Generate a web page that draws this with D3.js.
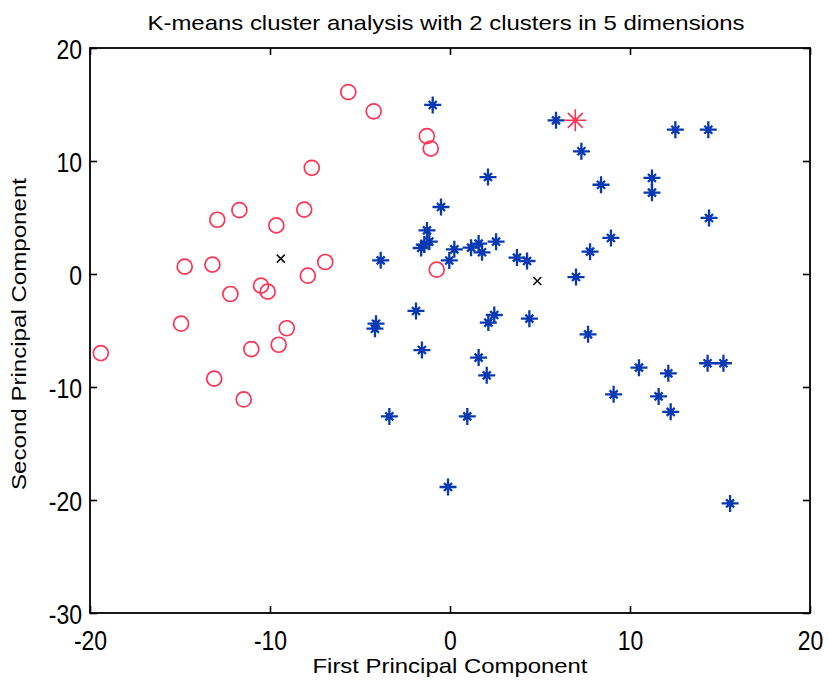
<!DOCTYPE html>
<html>
<head>
<meta charset="utf-8">
<script src="https://cdn.jsdelivr.net/npm/d3@7"></script>
<style>
  html, body { margin: 0; padding: 0; background: #fff; }
  svg { display: block; }
  text { font-family: "Liberation Sans", Arial, Helvetica, sans-serif; fill: #000; }
</style>
</head>
<body>
<svg id="chart" width="830" height="684"></svg>
<script>
// ---- data ----
const titleText = "K-means cluster analysis with 2 clusters in 5 dimensions";
const xLabelText = "First Principal Component";
const yLabelText = "Second Principal Component";
const xTicks = [-20, -10, 0, 10, 20];
const yTicks = [20, 10, 0, -10, -20, -30];

// cluster 1 (red circles)
const redX = [-5.65, -4.24, -1.29, -1.07, -7.68, -12.93, -11.7, -9.65, -8.1, -14.74, -13.2, -6.93,
              -7.9, -10.5, -10.13, -12.2, -0.74, -14.94, -9.07, -19.4, -11.04, -9.52, -13.1, -11.46];
const redY = [16.1, 14.4, 12.2, 11.1, 9.4, 4.8, 5.66, 4.3, 5.7, 0.65, 0.83, 1.06,
              -0.15, -1.03, -1.56, -1.77, 0.38, -4.4, -4.8, -7.0, -6.64, -6.26, -9.26, -11.1];

// cluster 2 (blue stars)
const blueX = [-0.96, 5.89, 12.52, 14.35, 7.3, 2.11, 8.39, 11.22, 11.22, 14.39, -0.5, -1.28,
               -1.43, -1.15, 8.94, 7.78, 0.24, -0.04, 1.17, 1.59, 1.78, 2.56, 3.72, 4.28,
               7.0, -3.85, -1.89, -4.11, -4.17, -1.56, -3.37, 2.46, 2.13, 4.41, 7.67, 1.59,
               2.04, 0.96, -0.11, 10.5, 12.13, 9.09, 11.59, 12.26, 14.31, 15.19, 15.56, -1.6];
const blueY = [14.96, 13.6, 12.77, 12.77, 10.86, 8.58, 7.9, 8.5, 7.2, 4.96, 5.93, 3.86,
               2.6, 2.86, 3.19, 1.98, 2.18, 1.2, 2.33, 2.69, 1.92, 2.86, 1.45, 1.15,
               -0.27, 1.21, -3.27, -4.4, -4.84, -6.73, -12.6, -3.63, -4.3, -3.95, -5.34, -7.4,
               -8.97, -12.6, -18.85, -8.29, -8.79, -10.65, -10.83, -12.2, -7.9, -7.9, -20.3, 2.3];

// cluster centroids (black x)
const centroidX = [-9.4, 4.85];
const centroidY = [1.36, -0.62];

// highlighted point (large red star)
const highlightX = [6.96];
const highlightY = [13.6];

// ---- drawing ----
const svg = d3.select("#chart");
const pLeft = 90, pRight = 810, pTop = 48, pBottom = 613;
const x = d3.scaleLinear().domain([-20, 20]).range([pLeft, pRight]);
const y = d3.scaleLinear().domain([-30, 20]).range([pBottom, pTop]);

const red = "#ff3355", blue = "#0639b3";
const fmt = d => String(d);   // plain hyphen-minus like the reference

function condense(sel, factor) {
  sel.each(function () {
    const w = this.getComputedTextLength();
    d3.select(this).attr("textLength", w * factor).attr("lengthAdjust", "spacingAndGlyphs");
  });
}

// axes with inward ticks
const tickLen = 7;
const gx = svg.append("g").attr("transform", `translate(0,${pBottom})`)
  .call(d3.axisBottom(x).tickValues(xTicks).tickSize(-tickLen).tickPadding(14).tickFormat(fmt));
const gxTop = svg.append("g").attr("transform", `translate(0,${pTop})`)
  .call(d3.axisTop(x).tickValues(xTicks).tickSize(-tickLen).tickFormat(""));
const gy = svg.append("g").attr("transform", `translate(${pLeft},0)`)
  .call(d3.axisLeft(y).tickValues(yTicks).tickSize(-tickLen).tickPadding(8).tickFormat(fmt));
const gyRight = svg.append("g").attr("transform", `translate(${pRight},0)`)
  .call(d3.axisRight(y).tickValues(yTicks).tickSize(-tickLen).tickFormat(""));

[gx, gxTop, gy, gyRight].forEach(g => {
  g.select(".domain").remove();
  g.selectAll(".tick line").attr("stroke", "#000").attr("stroke-width", 1.6);
});

gx.selectAll(".tick text")
  .attr("font-size", 28).attr("font-family", "Liberation Sans, Arial, sans-serif")
  .attr("dy", null).attr("y", 37).attr("fill", "#111")
  .call(condense, 0.82);
gy.selectAll(".tick text")
  .attr("font-size", 28).attr("font-family", "Liberation Sans, Arial, sans-serif")
  .attr("dy", "0.36em").attr("x", -8).attr("fill", "#111")
  .call(condense, 0.82);

// frame
svg.append("rect")
  .attr("x", pLeft).attr("y", pTop)
  .attr("width", pRight - pLeft).attr("height", pBottom - pTop)
  .attr("fill", "none").attr("stroke", "#000").attr("stroke-width", 1.8);

const plot = svg.append("g");

// red circles
plot.selectAll("circle.red").data(d3.range(redX.length)).join("circle")
  .attr("class", "red")
  .attr("cx", i => x(redX[i])).attr("cy", i => y(redY[i]))
  .attr("r", 7.5)
  .attr("fill", "none").attr("stroke", red).attr("stroke-width", 1.7);

// star marker path
function starPath(long, short) {
  return `M${-long},0H${long}M0,${-long}V${long}` +
         `M${-short},${-short}L${short},${short}M${-short},${short}L${short},${-short}`;
}
const blueG = plot.selectAll("g.blue").data(d3.range(blueX.length)).join("g")
  .attr("class", "blue")
  .attr("transform", i => `translate(${x(blueX[i])},${y(blueY[i])})`);
blueG.append("path").attr("d", starPath(8.5, 4))
  .attr("stroke", blue).attr("stroke-width", 2.3).attr("fill", "none");
blueG.append("circle").attr("r", 2.8).attr("fill", blue);

// highlighted red star
const hiG = plot.selectAll("g.hi").data(d3.range(highlightX.length)).join("g")
  .attr("class", "hi")
  .attr("transform", i => `translate(${x(highlightX[i])},${y(highlightY[i])})`);
hiG.append("path").attr("d", starPath(11, 7.5))
  .attr("stroke", red).attr("stroke-width", 1.6).attr("fill", "none");
hiG.append("circle").attr("r", 2.2).attr("fill", red);

// centroids
plot.selectAll("path.cent").data(d3.range(centroidX.length)).join("path")
  .attr("class", "cent")
  .attr("transform", i => `translate(${x(centroidX[i])},${y(centroidY[i])})`)
  .attr("d", "M-4,-4L4,4M-4,4L4,-4")
  .attr("stroke", "#111").attr("stroke-width", 1.6);

// title and axis labels
svg.append("text").attr("x", 446).attr("y", 30).attr("text-anchor", "middle")
  .attr("font-size", 21).text(titleText)
  .attr("textLength", 597).attr("lengthAdjust", "spacingAndGlyphs");
svg.append("text").attr("x", 450).attr("y", 673).attr("text-anchor", "middle")
  .attr("font-size", 21).text(xLabelText)
  .attr("textLength", 275).attr("lengthAdjust", "spacingAndGlyphs");
svg.append("text").attr("transform", "translate(26,334) rotate(-90)")
  .attr("text-anchor", "middle").attr("font-size", 21).text(yLabelText)
  .attr("textLength", 312).attr("lengthAdjust", "spacingAndGlyphs");
</script>
</body>
</html>
